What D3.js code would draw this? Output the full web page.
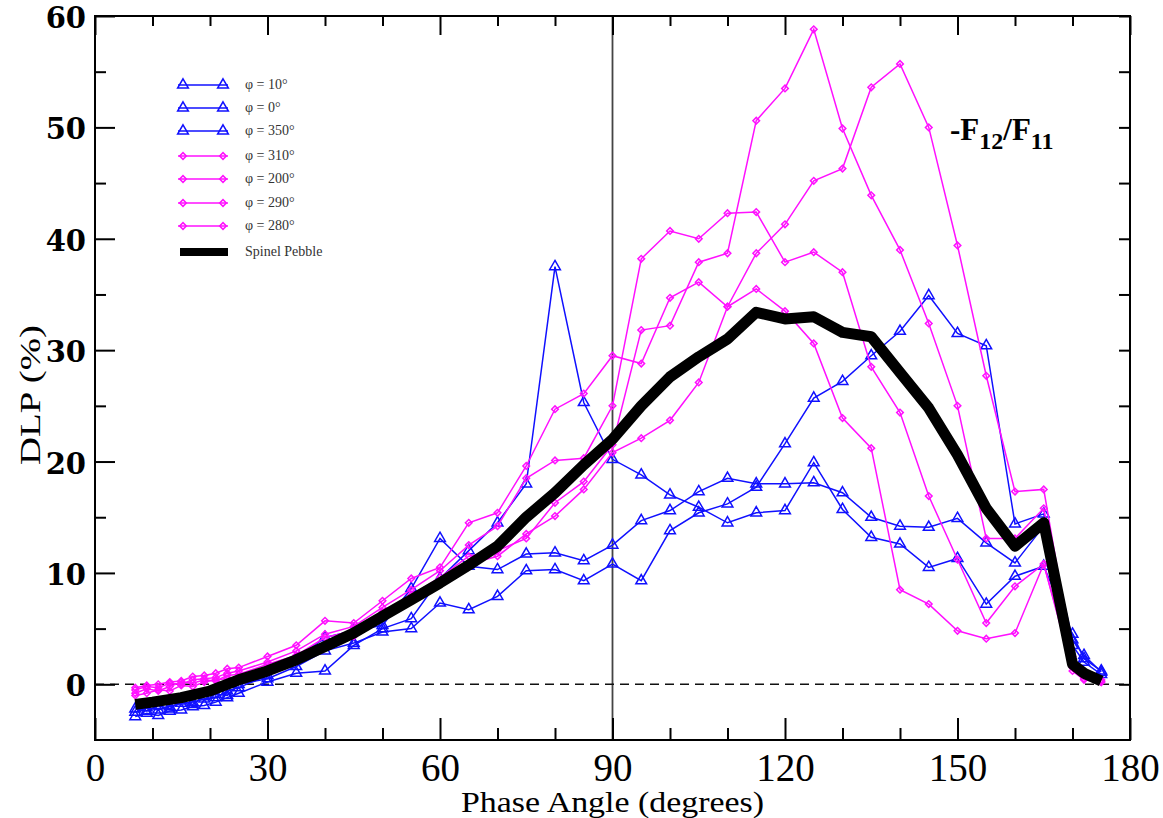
<!DOCTYPE html>
<html>
<head>
<meta charset="utf-8">
<script src="https://cdn.jsdelivr.net/npm/d3@7"></script>
<style>
  body { margin: 0; background: #fff; }
  svg { display: block; }
</style>
</head>
<body>
<svg width="1163" height="818"></svg>
<script>
// phase angles shared by the seven orientation series
const angles = [7, 9, 11, 13, 15, 17, 19, 21, 23, 25, 30, 35, 40, 45, 50, 55, 60, 65, 70, 75, 80, 85,
  90, 95, 100, 105, 110, 115, 120, 125, 130, 135, 140, 145, 150, 155, 160, 165, 170, 172, 175];

const phi10 = [-2.9, -2.6, -2.8, -2.4, -2.3, -2.0, -1.9, -1.6, -1.2, -0.8, 0.2, 1.0, 1.2, 3.5, 5.0, 5.9, 9.5, 12.0, 14.5, 18.0, 37.5, 25.3,
  20.2, 18.8, 17.0, 15.9, 14.5, 15.4, 15.6, 19.9, 15.7, 13.2, 12.6, 10.5, 11.3, 7.2, 9.7, 10.6, 4.5, 2.3, 1.2];
const phi0 = [-2.5, -2.1, -2.3, -2.0, -1.7, -1.6, -1.3, -1.2, -0.6, -0.3, 0.8, 2.3, 4.2, 4.8, 5.3, 8.6, 13.1, 10.6, 10.3, 11.7, 11.8, 11.1,
  12.5, 14.7, 15.6, 17.3, 18.5, 18.0, 18.0, 18.1, 17.2, 15.0, 14.2, 14.1, 14.9, 12.7, 10.9, 14.2, 3.5, 2.0, 0.9];
const phi350 = [-2.2, -2.4, -1.9, -2.2, -1.5, -1.8, -1.1, -0.9, -1.0, 0.0, 0.5, 1.6, 3.0, 3.7, 4.7, 5.0, 7.3, 6.7, 7.9, 10.2, 10.3, 9.3,
  10.8, 9.3, 13.8, 15.4, 16.2, 17.7, 21.6, 25.7, 27.2, 29.5, 31.7, 34.9, 31.5, 30.4, 14.4, 15.3, 4.0, 2.6, 1.1];
const phi310 = [-0.3, -0.1, 0.0, 0.2, 0.3, 0.7, 0.8, 1.0, 1.4, 1.5, 2.5, 3.5, 5.7, 5.5, 7.5, 9.5, 10.5, 14.5, 15.4, 19.6, 24.7, 26.1,
  29.5, 28.8, 34.7, 36.1, 33.9, 35.5, 33.5, 30.6, 23.9, 21.2, 8.5, 7.2, 4.8, 4.1, 4.6, 10.8, 1.5, 0.5, 0.2];
const phi200 = [-0.5, -0.2, -0.3, 0.1, 0.0, 0.4, 0.5, 0.6, 1.0, 1.2, 2.0, 3.0, 4.5, 5.2, 6.9, 8.5, 10.2, 12.5, 14.2, 18.5, 20.1, 20.3,
  25.0, 38.2, 40.7, 40.0, 42.3, 42.4, 37.9, 38.8, 37.0, 28.5, 24.4, 16.9, 11.2, 5.5, 8.8, 10.8, 1.2, 0.4, 0.2];
const phi290 = [-0.8, -0.4, -0.6, -0.2, 0.2, 0.1, 0.4, 0.3, 0.8, 0.9, 1.8, 2.6, 4.2, 4.8, 6.5, 8.0, 9.6, 11.5, 12.0, 13.1, 16.3, 18.2,
  21.5, 31.8, 32.2, 37.9, 38.7, 50.6, 53.5, 58.8, 49.9, 43.9, 39.0, 32.4, 25.0, 13.1, 13.1, 15.8, 2.0, 0.8, 0.3];
const phi280 = [-1.0, -0.8, -0.5, -0.6, -0.1, -0.2, 0.2, 0.4, 0.5, 0.7, 1.5, 2.3, 3.5, 4.3, 6.0, 7.5, 9.0, 10.8, 11.5, 13.5, 15.1, 17.5,
  20.8, 22.1, 23.7, 27.1, 33.9, 38.7, 41.3, 45.2, 46.3, 53.6, 55.7, 50.0, 39.4, 27.7, 17.3, 17.5, 2.5, 1.0, 0.4];

// spinel pebble measurement
const pebbleAngles = [7, 10, 15, 20, 25, 30, 35, 40, 45, 50, 55, 60, 65, 70, 75, 80, 85, 90, 95, 100, 105,
  110, 115, 120, 125, 130, 135, 140, 145, 150, 155, 160, 165, 170, 172, 175];
const pebble = [-1.8, -1.6, -1.2, -0.6, 0.4, 1.2, 2.2, 3.4, 4.6, 6.1, 7.6, 9.1, 10.7, 12.4, 15.0, 17.2, 19.7, 22.0, 25.0, 27.6, 29.4,
  31.0, 33.4, 32.8, 33.0, 31.6, 31.2, 28.0, 24.8, 20.6, 15.8, 12.4, 14.5, 1.8, 1.0, 0.3];

const seriesNames = ['φ = 10°', 'φ = 0°', 'φ = 350°', 'φ = 310°', 'φ = 200°', 'φ = 290°', 'φ = 280°'];
const seriesValues = [phi10, phi0, phi350, phi310, phi200, phi290, phi280];
const seriesKinds = ['tri', 'tri', 'tri', 'dia', 'dia', 'dia', 'dia'];

const xMajor = [0, 30, 60, 90, 120, 150, 180];
const xMinor = [10, 20, 40, 50, 70, 80, 100, 110, 130, 140, 160, 170];
const yMajor = [0, 10, 20, 30, 40, 50, 60];
const yMinor = [5, 15, 25, 35, 45, 55];

const plotL = 95, plotR = 1130, plotT = 16, plotB = 740;
const serif = '"Liberation Serif", "Times New Roman", serif';
const svg = d3.select('svg');

const x = d3.scaleLinear().domain([0, 180]).range([plotL, plotR]);
const y = d3.scaleLinear().domain([-5, 60]).range([plotB, plotT]);

const colorOf = (k) => (k === 'tri' ? '#1010ff' : '#ff10ff');
const triangle = d3.symbol().type(d3.symbolTriangle).size(50);
const diamond = d3.symbol().type(d3.symbolSquare).size(22);

// reference lines
svg.append('line')
  .attr('x1', x(90)).attr('x2', x(90)).attr('y1', plotT).attr('y2', plotB)
  .attr('stroke', '#444').attr('stroke-width', 1.8);
svg.append('line')
  .attr('x1', plotL).attr('x2', plotR).attr('y1', y(0)).attr('y2', y(0))
  .attr('stroke', '#111').attr('stroke-width', 1.5).attr('stroke-dasharray', '9,6');

// orientation series
const line = d3.line().x((d) => x(d[0])).y((d) => y(d[1]));
seriesValues.forEach((vals, i) => {
  const pts = angles.map((a, j) => [a, vals[j]]);
  const col = colorOf(seriesKinds[i]);
  const g = svg.append('g');
  g.append('path')
    .attr('d', line(pts))
    .attr('fill', 'none')
    .attr('stroke', col)
    .attr('stroke-width', 1.5);
  g.selectAll('path.m')
    .data(pts)
    .join('path')
    .attr('class', 'm')
    .attr('transform', (d) => `translate(${x(d[0])},${y(d[1])})${seriesKinds[i] === 'dia' ? ' rotate(45)' : ''}`)
    .attr('d', seriesKinds[i] === 'tri' ? triangle : diamond)
    .attr('fill', 'none')
    .attr('stroke', col)
    .attr('stroke-width', 1.5);
});

// thick pebble curve on top
svg.append('path')
  .attr('d', line(pebbleAngles.map((a, j) => [a, pebble[j]])))
  .attr('fill', 'none')
  .attr('stroke', '#000')
  .attr('stroke-width', 11)
  .attr('stroke-linejoin', 'round');

// axes, ticks pointing inward
const addAxis = (axis, tx, ty) => {
  const g = svg.append('g').attr('transform', `translate(${tx},${ty})`).call(axis);
  g.select('.domain').remove();
  g.selectAll('line').attr('stroke', '#000').attr('stroke-width', 2);
  return g;
};

addAxis(d3.axisLeft(y).tickValues(yMajor).tickSizeInner(-20).tickSizeOuter(0).tickPadding(9), plotL, 0)
  .selectAll('text')
  .attr('dy', '0.4em')
  .attr('font-family', 'DejaVu Serif').attr('font-weight', 'bold').attr('font-size', 29).attr('fill', '#000');
addAxis(d3.axisLeft(y).tickValues(yMinor).tickSizeInner(-11).tickFormat(''), plotL, 0);
addAxis(d3.axisRight(y).tickValues(yMajor.concat(yMinor)).tickSizeInner(-11).tickFormat(''), plotR, 0);

addAxis(d3.axisBottom(x).tickValues(xMajor).tickSizeInner(-22).tickSizeOuter(0).tickPadding(13), 0, plotB)
  .selectAll('text')
  .attr('font-family', serif).attr('font-size', 39).attr('fill', '#000');
addAxis(d3.axisBottom(x).tickValues(xMinor).tickSizeInner(-12).tickFormat(''), 0, plotB);
addAxis(d3.axisTop(x).tickValues(xMajor).tickSizeInner(-19).tickFormat(''), 0, plotT);
addAxis(d3.axisTop(x).tickValues(xMinor).tickSizeInner(-10).tickFormat(''), 0, plotT);

svg.append('rect')
  .attr('x', plotL).attr('y', plotT)
  .attr('width', plotR - plotL).attr('height', plotB - plotT)
  .attr('fill', 'none').attr('stroke', '#000').attr('stroke-width', 2);

// axis titles
svg.append('text')
  .attr('x', (plotL + plotR) / 2).attr('y', 812)
  .attr('text-anchor', 'middle')
  .attr('font-family', serif).attr('font-size', 30)
  .attr('textLength', 303).attr('lengthAdjust', 'spacingAndGlyphs')
  .text('Phase Angle (degrees)');
svg.append('text')
  .attr('transform', 'translate(40,395) rotate(-90)')
  .attr('text-anchor', 'middle')
  .attr('font-family', serif).attr('font-size', 30)
  .attr('textLength', 140).attr('lengthAdjust', 'spacingAndGlyphs')
  .text('DLP (%)');

// -F12/F11 label
const title = svg.append('text')
  .attr('x', 950).attr('y', 140)
  .attr('font-family', serif).attr('font-weight', 'bold').attr('font-size', 31);
title.append('tspan').text('-F');
title.append('tspan').attr('font-size', 24).attr('dy', 9).text('12');
title.append('tspan').attr('dy', -9).text('/F');
title.append('tspan').attr('font-size', 24).attr('dy', 9).text('11');

// legend
const legendY = [85, 108, 131, 156, 179, 203, 226];
seriesNames.forEach((name, i) => {
  const col = colorOf(seriesKinds[i]);
  const g = svg.append('g').attr('transform', `translate(0,${legendY[i]})`);
  g.append('line').attr('x1', 178).attr('x2', 228).attr('stroke', col).attr('stroke-width', 1.5);
  g.selectAll('path')
    .data([183, 223])
    .join('path')
    .attr('transform', (d) => `translate(${d},0)${seriesKinds[i] === 'dia' ? ' rotate(45)' : ''}`)
    .attr('d', seriesKinds[i] === 'tri' ? triangle : diamond)
    .attr('fill', 'none')
    .attr('stroke', col)
    .attr('stroke-width', 1.5);
  g.append('text')
    .attr('x', 245).attr('y', 4)
    .attr('font-family', serif).attr('font-size', 14).attr('fill', '#333')
    .text(name);
});
svg.append('line')
  .attr('x1', 180).attr('x2', 228).attr('y1', 252).attr('y2', 252)
  .attr('stroke', '#000').attr('stroke-width', 8);
svg.append('text')
  .attr('x', 245).attr('y', 256)
  .attr('font-family', serif).attr('font-size', 14).attr('fill', '#333')
  .text('Spinel Pebble');
</script>
</body>
</html>
